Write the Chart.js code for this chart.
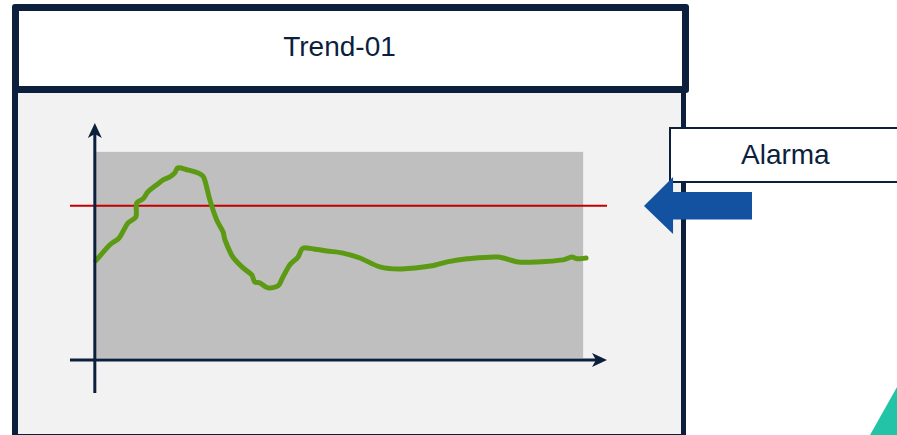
<!DOCTYPE html>
<html>
<head>
<meta charset="utf-8">
<script src="https://cdn.jsdelivr.net/npm/chart.js@4.4.1/dist/chart.umd.min.js"></script>
<style>
    html, body { margin: 0; padding: 0; background: #ffffff; }
    body { width: 897px; height: 435px; position: relative; overflow: hidden; font-family: 'Liberation Sans', Arial, sans-serif; }
    .panel { position: absolute; left: 12px; top: 88px; width: 674px; height: 347px; box-sizing: border-box;
             background: #f2f2f2; border-left: 6px solid #0c1f3d; border-right: 5px solid #0c1f3d; border-bottom: 1px solid #0c1f3d; }
    .title { position: absolute; left: 12px; top: 4px; width: 677px; height: 89px; box-sizing: border-box;
             background: #ffffff; border: 7px solid #0c1f3d; border-radius: 3px;
             display: flex; align-items: center; justify-content: center;
             font-size: 28px; color: #0c1f3d; padding-right: 22px; padding-bottom: 4px; }
    #wrap { position: absolute; left: 0; top: 0; width: 897px; height: 435px; }
    .alarm { position: absolute; left: 669px; top: 127px; width: 240px; height: 56px; box-sizing: border-box;
             background: #ffffff; border: 2px solid #0c1f3d; border-right: none;
             font-size: 28px; color: #0c1f3d; line-height: 52px; padding-left: 70px; }
    .arrow { position: absolute; left: 644px; top: 177px; width: 108px; height: 57px; background: #1252a0;
             clip-path: polygon(0 50.9%, 26.9% 0, 26.9% 26.3%, 100% 26.3%, 100% 74.6%, 26.9% 74.6%, 26.9% 100%); }
    .tri { position: absolute; left: 870px; top: 387px; width: 54px; height: 48px; background: #22c3a6;
           clip-path: polygon(50% 0, 100% 100%, 0 100%); }
</style>
</head>
<body>
<div class="panel"></div>
<div class="title">Trend-01</div>
<div id="wrap"><canvas id="trendChart"></canvas></div>
<div class="alarm">Alarma</div>
<div class="arrow"></div>
<div class="tri"></div>

<script>
// trend samples (time, value) — plot box spans 0..100 on both axes
const trendTime = [0, 2.9, 4.8, 6.6, 8.2, 8.4, 9.7, 10.7, 12.5, 13.8, 15.2, 16.2, 16.8, 18.7, 21.4, 22.2,
    23.4, 24.8, 26.1, 26.5, 28.1, 30.2, 32.0, 32.6, 33.7, 35.3, 37.4, 38.4, 39.8, 41.5, 42.3, 43.3,
    47.4, 50.5, 54.2, 58.3, 62.8, 69.0, 72.1, 76.2, 82.5, 86.7, 90.6, 95.9, 97.7, 98.8, 100.6];
const trendValue = [47.2, 54.9, 58.3, 65.5, 68.4, 75.2, 77.2, 80.6, 84.0, 86.4, 87.9, 89.8, 92.2, 91.3, 89.3, 87.4,
    76.7, 67.0, 61.2, 57.3, 49.0, 43.7, 40.3, 36.9, 36.4, 34.0, 35.0, 39.3, 45.1, 49.0, 52.9, 53.4,
    51.9, 51.0, 48.5, 44.2, 43.2, 44.7, 46.6, 48.1, 49.0, 46.6, 46.6, 47.6, 49.0, 48.1, 48.5];
const alarmLevel = 73.8;
const plotTime = [0, 100];
const plotValue = [0, 100];
const axisTime = [-5.3, 104.9];
const axisValue = [-17, 114];
const xAxisAt = -1;

const navy = '#0c1f3d';

// gray plot box and the two arrow axes, placed through the scales
const diagramPlugin = {
    id: 'diagram',
    beforeDatasetsDraw(chart) {
        const { ctx, scales: { x, y } } = chart;
        const left = x.getPixelForValue(plotTime[0]);
        const right = x.getPixelForValue(plotTime[1]);
        const top = y.getPixelForValue(plotValue[1]);
        const bottom = y.getPixelForValue(plotValue[0]);
        ctx.save();
        ctx.fillStyle = '#bfbfbf';
        ctx.fillRect(left, top, right - left, bottom - top);
        ctx.restore();
    },
    afterDatasetsDraw(chart) {
        const { ctx, scales: { x, y } } = chart;
        const ax = x.getPixelForValue(plotTime[0]) - 1;
        const ay = y.getPixelForValue(xAxisAt);
        const x0 = x.getPixelForValue(axisTime[0]);
        const x1 = x.getPixelForValue(axisTime[1]);
        const y0 = y.getPixelForValue(axisValue[0]);
        const y1 = y.getPixelForValue(axisValue[1]);
        ctx.save();
        ctx.strokeStyle = navy;
        ctx.fillStyle = navy;
        ctx.lineWidth = 3;
        ctx.beginPath();
        ctx.moveTo(ax, y0);
        ctx.lineTo(ax, y1 + 8);
        ctx.moveTo(x0, ay);
        ctx.lineTo(x1 - 8, ay);
        ctx.stroke();
        // arrow heads
        ctx.beginPath();
        ctx.moveTo(ax, y1);
        ctx.lineTo(ax + 7, y1 + 15);
        ctx.lineTo(ax, y1 + 11);
        ctx.lineTo(ax - 7, y1 + 15);
        ctx.closePath();
        ctx.fill();
        ctx.beginPath();
        ctx.moveTo(x1, ay);
        ctx.lineTo(x1 - 15, ay - 7);
        ctx.lineTo(x1 - 11, ay);
        ctx.lineTo(x1 - 15, ay + 7);
        ctx.closePath();
        ctx.fill();
        ctx.restore();
    }
};

new Chart(document.getElementById('trendChart'), {
    type: 'line',
    data: {
        datasets: [{
            label: 'Alarma',
            data: [{ x: axisTime[0], y: alarmLevel }, { x: axisTime[1], y: alarmLevel }],
            borderColor: '#c00000',
            borderWidth: 2,
            pointRadius: 0,
            clip: false,
            order: 2
        }, {
            label: 'Trend-01',
            data: trendTime.map((t, i) => ({ x: t, y: trendValue[i] })),
            borderColor: '#5c9a14',
            borderWidth: 5,
            borderCapStyle: 'round',
            borderJoinStyle: 'round',
            pointRadius: 0,
            tension: 0.3,
            clip: false,
            order: 1
        }]
    },
    options: {
        responsive: true,
        maintainAspectRatio: false,
        animation: false,
        events: [],
        layout: { padding: { left: 70, right: 290, top: 123, bottom: 42 } },
        scales: {
            x: { type: 'linear', display: false, min: axisTime[0], max: axisTime[1] },
            y: { type: 'linear', display: false, min: axisValue[0], max: axisValue[1] }
        },
        plugins: {
            legend: { display: false },
            tooltip: { enabled: false }
        }
    },
    plugins: [diagramPlugin]
});
</script>
</body>
</html>
